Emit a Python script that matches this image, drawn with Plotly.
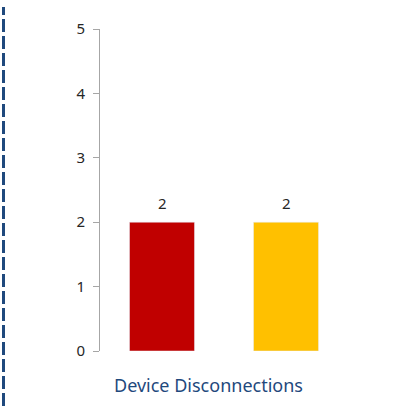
import plotly.graph_objects as go

category = ["Device Disconnections"]
series_a = [2]
series_b = [2]
y_ticks = [0, 1, 2, 3, 4, 5]

text_font = dict(family="Noto Sans, Open Sans, sans-serif", size=15, color="#262626")

fig = go.Figure()
fig.add_trace(go.Bar(x=category, y=series_a, marker_color="#C00000"))
fig.add_trace(go.Bar(x=category, y=series_b, marker_color="#FFC000"))

# value labels above each bar
value_labels = [
    dict(x=category[0], y=v, xref="x", yref="y", text=str(v), showarrow=False,
         xshift=shift, yshift=19, font=text_font)
    for v, shift in ((series_a[0], -62), (series_b[0], 62))
]

fig.update_layout(
    width=406, height=406,
    margin=dict(l=100, r=58, t=29, b=55),
    paper_bgcolor="white", plot_bgcolor="white",
    barmode="group", bargap=0.0, bargroupgap=0.476,
    showlegend=False,
    font=text_font,
    xaxis=dict(showticklabels=False, showline=False, showgrid=False,
               zeroline=False, ticks=""),
    yaxis=dict(range=[0, 5], tickvals=y_ticks, showgrid=False, zeroline=False,
               showline=True, linecolor="#A6A6A6", linewidth=1,
               ticks="outside", ticklen=6, tickcolor="#A6A6A6",
               ticklabelstandoff=5, tickfont=text_font),
    annotations=value_labels + [
        dict(text=category[0], xref="paper", yref="paper",
             x=(208 - 100) / 248, y=-34 / 322, xanchor="center",
             yanchor="middle", showarrow=False,
             font=dict(family="Noto Sans, Open Sans, sans-serif",
                       size=18, color="#1F497D"))],
    shapes=[dict(type="line", xref="paper", yref="paper",
                 x0=-96.5 / 248, x1=-96.5 / 248, y0=-55 / 322, y1=1 + 22 / 322,
                 line=dict(color="#1F497D", width=3, dash="13px,4px"))],
)

fig.write_html("out.html")
